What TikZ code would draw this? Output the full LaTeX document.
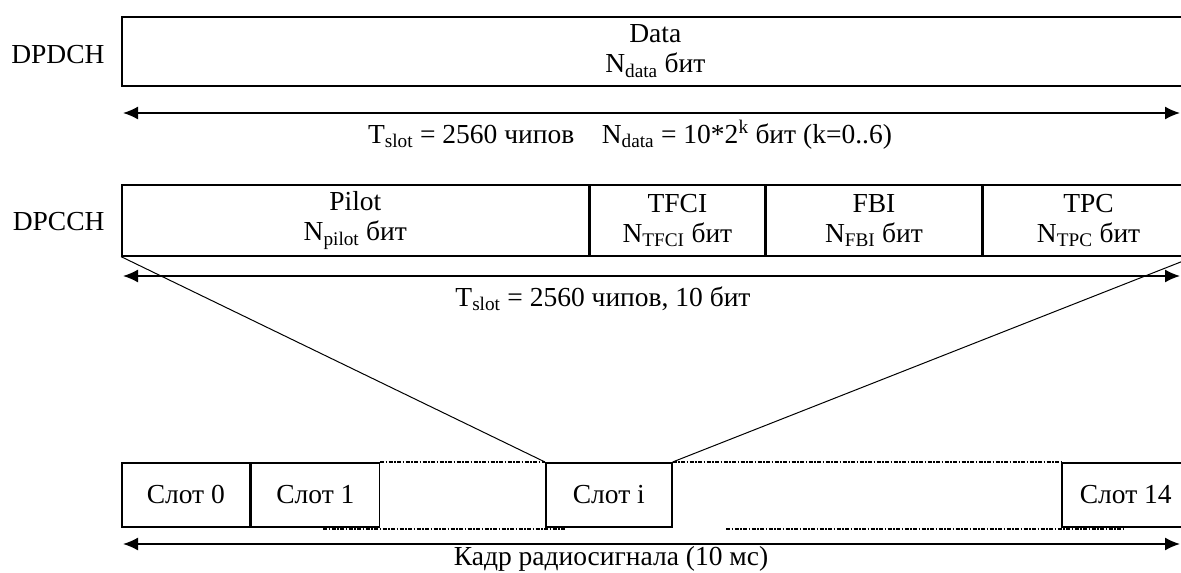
\documentclass[tikz,border=0pt]{standalone}
\usepackage{fontspec}
\setmainfont{Liberation Serif}
\usetikzlibrary{arrows.meta,positioning}

\begin{document}
\begin{tikzpicture}[
  x=1pt, y=-1pt,
  font=\fontsize{27.5}{30}\selectfont,
  field/.style={
    rectangle, draw, line width=1.6pt, align=center,
    minimum height=71pt, inner sep=0pt
  },
  slotbox/.style={
    rectangle, draw, line width=1.6pt,
    minimum width=128pt, minimum height=64pt, inner sep=0pt
  },
  chan/.style={anchor=base east},
  span/.style={{Latex[length=15pt,width=13pt]}-{Latex[length=15pt,width=13pt]}, line width=1.6pt},
  gap/.style={dash pattern=on 4pt off 1.5pt on 1.5pt off 1.5pt, line width=1.3pt},
  fan/.style={line width=1pt}
]
\useasboundingbox (0,0) rectangle (1181,573);

% DPDCH
\node[chan] (dpdch) at (108,63) {DPDCH};
\node[field, minimum width=1067pt, minimum height=69pt, anchor=north west] (data) at (121,16) {Data\\N\textsubscript{data} бит};
\coordinate (s1l) at (123,113);
\coordinate (s1r) at (1180,113);
\draw[span] (s1l) -- (s1r);
\node[anchor=base] (lab1) at (630,143) {T\textsubscript{slot} = 2560 чипов\quad N\textsubscript{data} = 10*2\textsuperscript{k} бит (k=0..6)};

% DPCCH
\node[chan] (dpcch) at (108,230) {DPCCH};
\node[field, minimum width=467pt, anchor=north west] (pilot) at (121,184) {Pilot\\N\textsubscript{pilot} бит};
\node[field, minimum width=174pt, right=0pt of pilot] (tfci) {TFCI\\N\textsubscript{TFCI} бит};
\node[field, minimum width=216pt, right=0pt of tfci] (fbi) {FBI\\N\textsubscript{FBI} бит};
\node[field, minimum width=210pt, right=0pt of fbi] (tpc) {TPC\\N\textsubscript{TPC} бит};
\coordinate (s2l) at (123,276);
\coordinate (s2r) at (1180,276);
\draw[span] (s2l) -- (s2r);
\node[anchor=base] (lab2) at (603,306) {T\textsubscript{slot} = 2560 чипов, 10 бит};

% Slots of the frame
\node[slotbox, anchor=north west] (slot0) at (121,462) {Слот 0};
\node[slotbox, right=0pt of slot0] (slot1) {Слот 1};
\node[slotbox, minimum width=126pt, anchor=north west] (sloti) at (545,462) {Слот i};
\node[slotbox, anchor=north west] (slot14) at (1061,462) {Слот 14};

\draw[fan] (pilot.south west) -- (sloti.north west);
\draw[fan] (tpc.south east) -- (sloti.north east);

\draw[gap] (slot1.north east) -- (sloti.north west);
\draw[gap] (sloti.north east) -- (slot14.north west);
\coordinate (g1a) at (323,529);
\coordinate (g1b) at (566,529);
\coordinate (g2a) at (726,529);
\coordinate (g2b) at (1125,529);
\draw[gap] (g1a) -- (g1b);
\draw[gap] (g2a) -- (g2b);

\coordinate (s3l) at (123,544);
\coordinate (s3r) at (1180,544);
\draw[span] (s3l) -- (s3r);
\node[anchor=base] (lab3) at (611,565) {Кадр радиосигнала (10 мс)};
\end{tikzpicture}
\end{document}
